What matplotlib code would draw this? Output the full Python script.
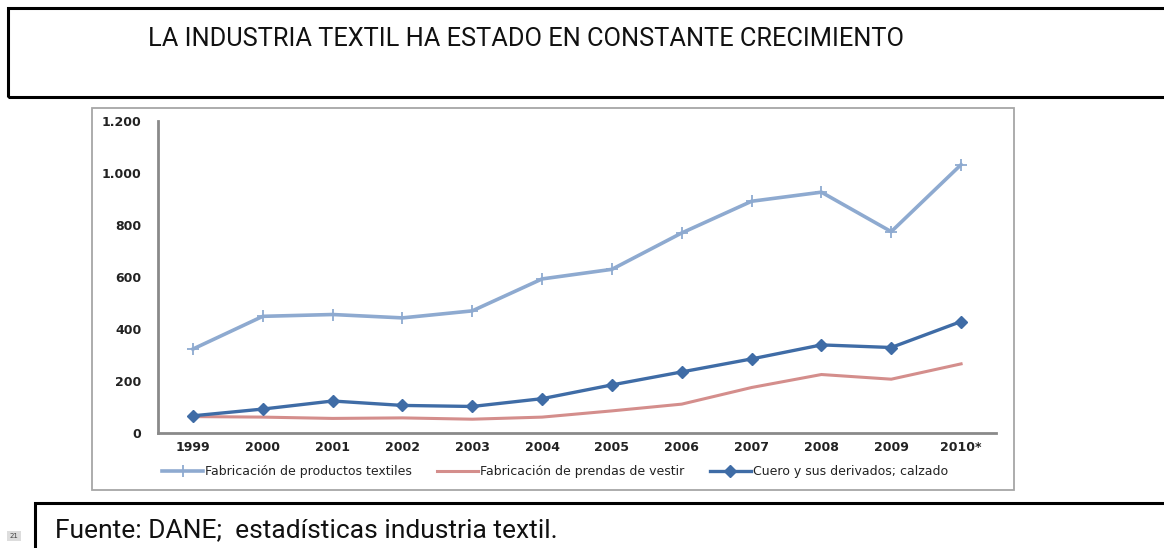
import matplotlib
matplotlib.use("Agg")
import matplotlib.pyplot as plt
import matplotlib.patches as mpatches

# ── Data ──
years = ["1999", "2000", "2001", "2002", "2003", "2004", "2005",
         "2006", "2007", "2008", "2009", "2010*"]
textiles = [322, 448, 455, 442, 469, 592, 629, 769, 891, 926, 774, 1032]
prendas = [62, 60, 55, 57, 52, 60, 84, 110, 174, 224, 206, 265]
cuero = [65, 91, 122, 105, 101, 131, 184, 234, 284, 338, 328, 428]
yticks = [0, 200, 400, 600, 800, 1000, 1200]
ytick_labels = ["0", "200", "400", "600", "800", "1.000", "1.200"]

W, H = 1164, 548
fig = plt.figure(figsize=(W / 100, H / 100), dpi=100)
fig.patch.set_facecolor("white")


def fx(px):
    return px / W


def fy(py):
    return 1 - py / H


# ── Title box ──
fig.patches.append(mpatches.Rectangle((fx(8), fy(97)), fx(1200), (97 - 8) / H,
                                      transform=fig.transFigure, fill=False,
                                      edgecolor="black", linewidth=2.2))
fig.text(fx(148), fy(39), "LA INDUSTRIA TEXTIL HA ESTADO EN CONSTANTE CRECIMIENTO",
         fontsize=18.3, family=["Roboto", "DejaVu Sans"],
         color="#111111", va="center", ha="left")

# ── Chart frame ──
fig.patches.append(mpatches.Rectangle((fx(92), fy(490)), fx(1014 - 92), (490 - 108) / H,
                                      transform=fig.transFigure, fill=False,
                                      edgecolor="#a6a6a6", linewidth=1.3))

# ── Source box ──
fig.patches.append(mpatches.Rectangle((fx(35), fy(560)), fx(1200), (560 - 503) / H,
                                      transform=fig.transFigure, fill=False,
                                      edgecolor="black", linewidth=2.2))
fig.text(fx(55), fy(530), "Fuente: DANE;  estadísticas industria textil.",
         fontsize=19, family=["Roboto", "DejaVu Sans"],
         color="#111111", va="center", ha="left")
fig.text(fx(14), fy(536), "21", fontsize=5, color="#444444", va="center", ha="center",
         bbox=dict(boxstyle="square,pad=0.3", facecolor="#dddddd", edgecolor="none"))

# ── Axes ──
ax = fig.add_axes([fx(158), fy(432.7), fx(996 - 158), (432.7 - 121) / H])
x = range(len(years))
ax.plot(x, textiles, color="#8eaad0", linewidth=2.6, marker="+", markersize=8,
        markeredgewidth=1.3, label="Fabricación de productos textiles")
ax.plot(x, prendas, color="#d48e8c", linewidth=2.2,
        label="Fabricación de prendas de vestir")
ax.plot(x, cuero, color="#3f6ca6", linewidth=2.4, marker="D", markersize=6,
        label="Cuero y sus derivados; calzado")

ax.set_xlim(-0.5, len(years) - 0.5)
ax.set_ylim(0, 1200)
ax.set_xticks(list(x))
ax.set_xticklabels(years)
ax.set_yticks(yticks)
ax.set_yticklabels(ytick_labels)
ax.tick_params(axis="both", length=0, labelsize=9, labelcolor="#222222")
ax.tick_params(axis="y", pad=12)
ax.tick_params(axis="x", pad=6)
for lab in ax.get_xticklabels() + ax.get_yticklabels():
    lab.set_fontweight("bold")
for side in ["top", "right"]:
    ax.spines[side].set_visible(False)
for side in ["left", "bottom"]:
    ax.spines[side].set_color("#8a8a8a")
    ax.spines[side].set_linewidth(2)
ax.set_facecolor("white")

leg = fig.legend(loc="center", bbox_to_anchor=(fx(555), fy(472)), ncol=3, frameon=False,
                 handlelength=3.3, handletextpad=0.15, columnspacing=2.0,
                 prop={"size": 9})
for t in leg.get_texts():
    t.set_color("#222222")

fig.savefig("out.png", dpi=100, facecolor="white")
